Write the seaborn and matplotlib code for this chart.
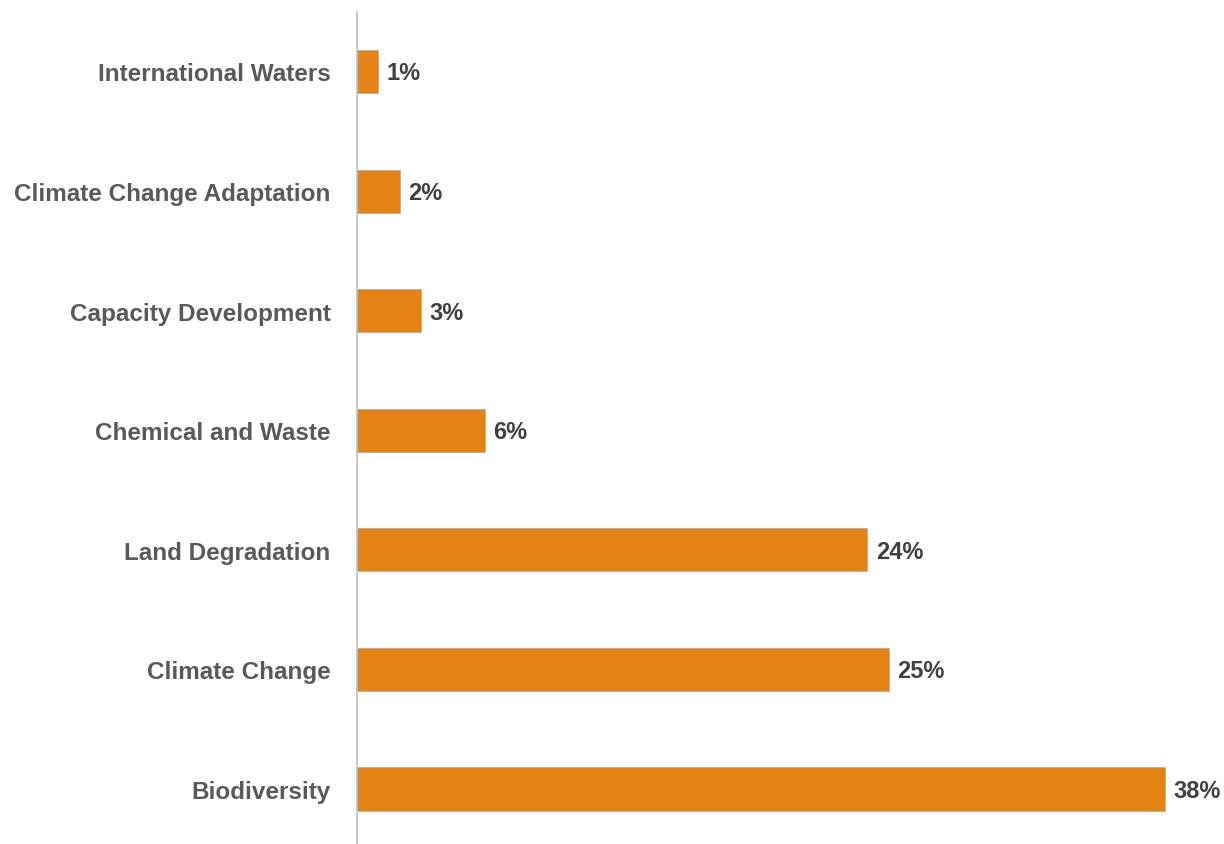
import matplotlib
matplotlib.use("Agg")
import matplotlib.pyplot as plt
import seaborn as sns
import pandas as pd

# focal area shares, top to bottom as drawn
categories = [
    "International Waters",
    "Climate Change Adaptation",
    "Capacity Development",
    "Chemical and Waste",
    "Land Degradation",
    "Climate Change",
    "Biodiversity",
]
shares = [1, 2, 3, 6, 24, 25, 38]

BAR_COLOR = "#E48313"
LABEL_COLOR = "#595959"
VALUE_COLOR = "#404040"

sns.set_style("white")
# the original uses a condensed bold face; Liberation Sans is the narrowest we have
plt.rcParams["font.family"] = ["Liberation Sans", "DejaVu Sans"]

df = pd.DataFrame({"category": categories, "share": shares})

fig = plt.figure(figsize=(12.24, 8.45), dpi=100)
ax = fig.add_axes([0.2917, 0.0, 0.695, 0.985])

sns.barplot(data=df, x="share", y="category", color=BAR_COLOR, width=0.36,
            edgecolor="#B0B0B0", linewidth=0.6, saturation=1, ax=ax)

for i, v in enumerate(shares):
    ax.annotate(f"{v}%", xy=(v, i), xytext=(6, -1), textcoords="offset points",
                va="center", ha="left", fontsize=17, fontweight="bold",
                color=VALUE_COLOR)

ax.set_xlim(0, 40)
ax.set_ylim(6.46, -0.5)
ax.set_xlabel("")
ax.set_ylabel("")
ax.set_xticks([])
ax.tick_params(axis="y", length=0, pad=19)
for lbl in ax.get_yticklabels():
    lbl.set_fontsize(17.5)
    lbl.set_fontweight("bold")
    lbl.set_color(LABEL_COLOR)

for s in ["top", "right", "bottom"]:
    ax.spines[s].set_visible(False)
ax.spines["left"].set_color("#BFBFBF")
ax.spines["left"].set_linewidth(1.2)

fig.savefig("out.png", dpi=100)
plt.close(fig)
